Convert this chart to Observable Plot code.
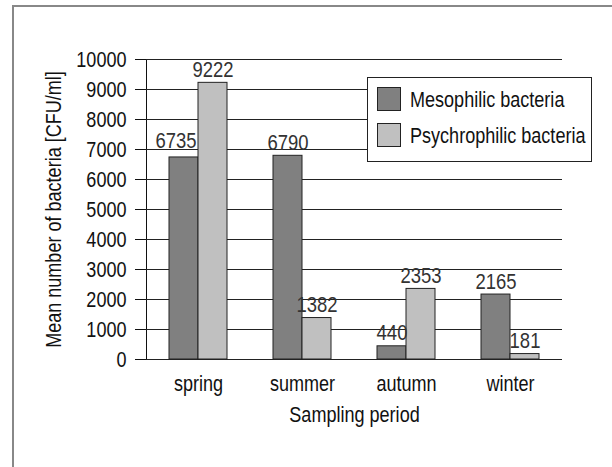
<!DOCTYPE html>
<html>
<head>
<meta charset="utf-8">
<script src="https://cdn.jsdelivr.net/npm/d3@7"></script>
<script src="https://cdn.jsdelivr.net/npm/@observablehq/plot@0.6"></script>
<style>
  body { margin: 0; background: #fff; }
  #wrap { position: relative; width: 612px; height: 467px; overflow: hidden; background: #fff; }
  #frame { position: absolute; left: 12px; top: 5px; right: -20px; bottom: -20px;
           border-top: 2px solid #888; border-left: 2px solid #888; }
  #chart { position: absolute; left: 0; top: 0; }
  #legend { position: absolute; left: 367px; top: 77px; width: 225px; height: 85px;
            border: 1px solid #222; background: #fff; box-sizing: border-box; }
  .item { position: absolute; left: 9px; height: 24px; white-space: nowrap; }
  .sw { position: absolute; left: 0; top: 0; width: 24px; height: 24px; border: 1px solid #222; box-sizing: border-box; }
  .lab { position: absolute; left: 33px; top: 0; line-height: 26px; color: #111; transform-origin: 0 50%; }
</style>
</head>
<body>
<div id="wrap"><div id="frame"></div><div id="chart"></div><div id="legend"></div></div>
<script>
// ---- data ----
const periods = ["spring", "summer", "autumn", "winter"];
const seriesNames = ["Mesophilic bacteria", "Psychrophilic bacteria"];
const mesophilic = [6735, 6790, 440, 2165];
const psychrophilic = [9222, 1382, 2353, 181];
const yTicks = [0, 1000, 2000, 3000, 4000, 5000, 6000, 7000, 8000, 9000, 10000];
const seriesColors = ["#808080", "#c0c0c0"];

const data = periods.flatMap((p, i) => [
  {period: p, series: seriesNames[0], value: mesophilic[i]},
  {period: p, series: seriesNames[1], value: psychrophilic[i]}
]);

// ---- font detection: narrow face if present, else compress a regular face ----
function hasFont(f) {
  const c = document.createElement("canvas").getContext("2d");
  const s = "Psychrophilic bacteria 0123456789";
  c.font = "40px monospace";
  const a = c.measureText(s).width;
  c.font = `40px '${f}', monospace`;
  return Math.abs(c.measureText(s).width - a) > 0.5;
}
const narrow = hasFont("Liberation Sans Narrow");
const FONT = narrow ? "'Liberation Sans Narrow', 'Liberation Sans', Arial, sans-serif"
                    : "'Liberation Sans', Arial, sans-serif";
const FS = 22;
const SQUEEZE = narrow ? 1 : 0.82;

// spring mesophilic label sits left of its bar in the original
const isShifted = d => d.period === periods[0] && d.series === seriesNames[0];

// ---- chart ----
const chart = Plot.plot({
  width: 612,
  height: 467,
  marginLeft: 144,
  marginRight: 49,
  marginTop: 59,
  marginBottom: 108,
  style: {fontFamily: FONT, fontSize: FS + "px", color: "#111", background: "transparent", overflow: "visible"},
  fx: {domain: periods, padding: 0, axis: "bottom", label: "Sampling period", labelAnchor: "center",
       tickSize: 0, tickPadding: 16, labelOffset: 62},
  x: {domain: seriesNames, paddingInner: 0, paddingOuter: 0.746, axis: null},
  y: {domain: [0, 10000], ticks: yTicks, tickFormat: d3.format("d"), tickSize: 11, tickPadding: 9,
      label: "Mean number of bacteria [CFU/ml]", labelAnchor: "center", labelOffset: 101, labelArrow: "none", line: true},
  color: {domain: seriesNames, range: seriesColors},
  marks: [
    Plot.ruleY(yTicks, {stroke: "#222", strokeWidth: 1}),
    Plot.barY(data, {fx: "period", x: "series", y: "value", fill: "series", stroke: "#222", strokeWidth: 1}),
    Plot.text(data.filter(d => !isShifted(d)), {fx: "period", x: "series", y: "value", text: d => String(d.value),
                     lineAnchor: "bottom", dy: -6, fill: "#333", fontSize: FS + 0.5}),
    Plot.text(data.filter(isShifted), {fx: "period", x: "series", y: "value", text: d => String(d.value),
                     lineAnchor: "bottom", dy: -9, dx: -8, fill: "#333", fontSize: FS + 0.5})
  ]
});
document.getElementById("chart").appendChild(chart);

if (SQUEEZE !== 1) {
  chart.querySelectorAll("text").forEach(t => {
    const w = t.getComputedTextLength();
    if (w > 0) {
      t.setAttribute("textLength", (w * SQUEEZE).toFixed(2));
      t.setAttribute("lengthAdjust", "spacingAndGlyphs");
    }
  });
}

// ---- legend ----
const legend = document.getElementById("legend");
legend.style.fontFamily = FONT;
legend.style.fontSize = FS + "px";
seriesNames.forEach((name, i) => {
  const item = document.createElement("div");
  item.className = "item";
  item.style.top = (9 + i * 36) + "px";
  const sw = document.createElement("div");
  sw.className = "sw";
  sw.style.background = seriesColors[i];
  const lab = document.createElement("div");
  lab.className = "lab";
  lab.textContent = name;
  lab.style.transform = `scaleX(${SQUEEZE})`;
  item.appendChild(sw);
  item.appendChild(lab);
  legend.appendChild(item);
});
</script>
</body>
</html>
